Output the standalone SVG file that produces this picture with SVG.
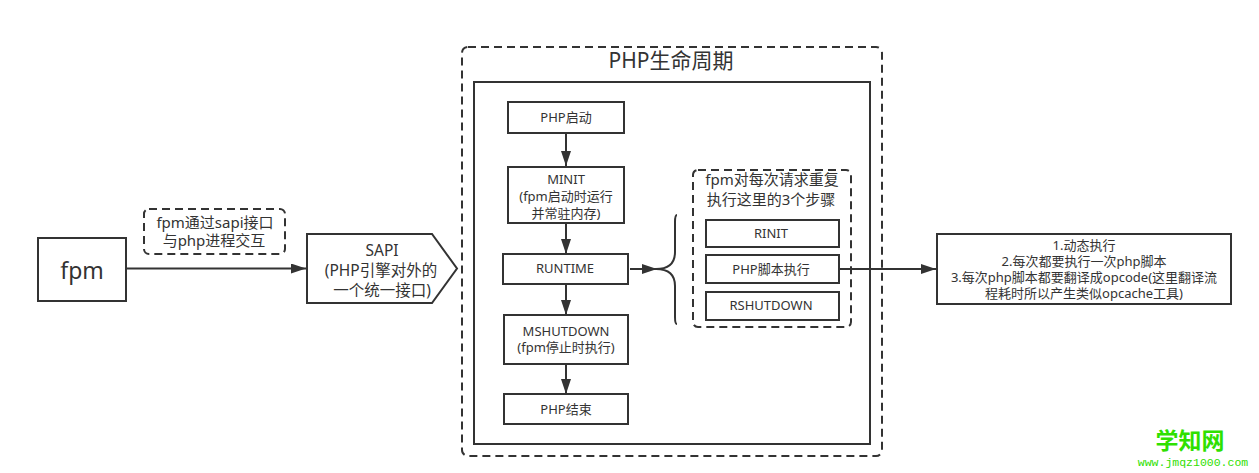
<svg xmlns="http://www.w3.org/2000/svg" width="1259" height="473" viewBox="0 0 1259 473">
<style>
text{font-family:"Noto Sans","Noto Sans CJK SC",sans-serif;fill:#333;text-anchor:middle}
.b{fill:#fff;stroke:#333;stroke-width:2}
.d{fill:#fff;stroke:#333;stroke-width:2;stroke-dasharray:8 5}
.t{font-size:13px}
.c{fill:none;stroke:#333;stroke-width:2}
</style>
<defs>
<marker id="a" markerUnits="userSpaceOnUse" markerWidth="16" markerHeight="10" refX="15" refY="5" orient="auto"><path d="M0 0L15 5L0 10Z" fill="#333"/></marker>
</defs>
<rect width="1259" height="473" fill="#fff"/>
<g id="lifecycle">
<rect class="d" x="462" y="47" width="420" height="409" rx="6"/>
<rect x="474" y="82" width="396" height="362" fill="#fff" stroke="#333" stroke-width="2"/>
<text x="671" y="68" font-size="21">PHP生命周期</text>
</g>
<g id="steps"><rect class="d" x="693" y="170" width="158" height="157" rx="5"/>
<text x="772" y="185" font-size="15">fpm对每次请求重复</text><text x="771" y="205" font-size="15">执行这里的3个步骤</text></g>
<g id="connectors">
<path class="c" d="M127 268.500H306" marker-end="url(#a)"/>
<path class="c" d="M566 133V166" marker-end="url(#a)"/>
<path class="c" d="M566 223V254" marker-end="url(#a)"/>
<path class="c" d="M566 284V315" marker-end="url(#a)"/>
<path class="c" d="M566 364V394" marker-end="url(#a)"/>
<path class="c" d="M630 269H657" marker-end="url(#a)"/>
<path class="c" d="M839 269H936" marker-end="url(#a)"/>
<path class="c" d="M677 215Q675 215 675 222V252Q675 269 656 269Q675 269 675 286V317Q675 324 677 324"/>
</g>
<g id="fpm"><rect class="b" x="38" y="238" width="88" height="63"/><text x="82" y="279" font-size="23">fpm</text></g>
<g id="note"><rect class="d" x="144" y="209" width="141" height="45" rx="5"/>
<text x="215" y="228" font-size="15">fpm通过sapi接口</text><text x="214" y="246" font-size="15">与php进程交互</text></g>
<g id="sapi"><path class="b" d="M307 234H432L457 268.500L432 303H307Z"/>
<text x="382" y="256" font-size="15.500">SAPI</text><text x="381" y="276" font-size="15.500">(PHP引擎对外的</text><text x="382" y="296" font-size="15.500">一个统一接口)</text></g>
<g id="start"><rect class="b" x="508" y="102" width="116" height="31"/><text class="t" x="566" y="122">PHP启动</text></g>
<g id="minit"><rect class="b" x="508" y="167" width="116" height="56"/><text class="t" x="566" y="184">MINIT</text><text class="t" x="566" y="201">(fpm启动时运行</text><text class="t" x="566" y="218">并常驻内存)</text></g>
<g id="runtime"><rect class="b" x="503" y="254" width="125" height="30"/><text class="t" x="565" y="273">RUNTIME</text></g>
<g id="mshutdown"><rect class="b" x="504" y="315" width="124" height="49"/><text class="t" x="566" y="336">MSHUTDOWN</text><text class="t" x="566" y="352">(fpm停止时执行)</text></g>
<g id="end"><rect class="b" x="504" y="394" width="124" height="30"/><text class="t" x="566" y="414">PHP结束</text></g>
<g id="rinit"><rect class="b" x="706" y="220" width="133" height="27"/><text class="t" x="771" y="238">RINIT</text></g>
<g id="exec"><rect class="b" x="706" y="255" width="133" height="28"/><text class="t" x="771" y="274">PHP脚本执行</text></g>
<g id="rshutdown"><rect class="b" x="706" y="292" width="133" height="28"/><text class="t" x="771" y="310">RSHUTDOWN</text></g>
<g id="notes"><rect class="b" x="937" y="234" width="294" height="70"/>
<text class="t" x="1084" y="250">1.动态执行</text><text class="t" x="1084" y="266">2.每次都要执行一次php脚本</text><text class="t" x="1084" y="282">3.每次php脚本都要翻译成opcode(这里翻译流</text><text class="t" x="1084" y="298">程耗时所以产生类似opcache工具)</text></g>
<g id="watermark"><text x="1190" y="449" font-size="23" font-weight="700" style="fill:#2fe000">学知网</text><text x="1193" y="466" font-size="11.500" style="fill:#2fe000;font-family:'Liberation Mono',monospace">www.jmqz1000.com</text></g>
</svg>
